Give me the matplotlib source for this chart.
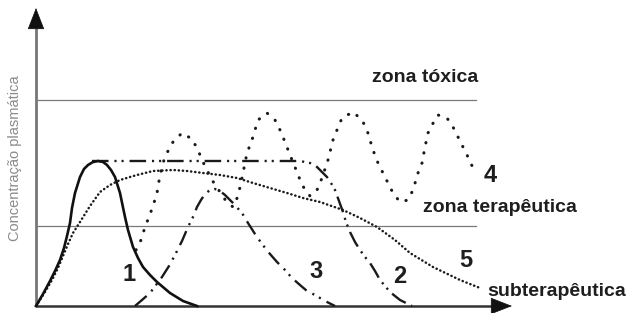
import numpy as np
import matplotlib
matplotlib.use("Agg")
import matplotlib.pyplot as plt

plt.rcParams['font.family'] = ['Liberation Sans', 'DejaVu Sans']

# Curve readings (time in arbitrary units, plasma concentration in arbitrary units)
t1 = [0, 7, 14, 19, 24, 28, 31, 34, 36, 39, 44, 48, 52, 57, 62, 67, 71, 75, 79, 84,
      89, 92, 97, 102, 107, 114, 121, 134, 147, 161]
c1 = [0, 12, 25, 35, 46, 58, 70, 83, 98, 113, 129, 137, 141, 144, 145, 144, 141, 136, 129, 113,
      89, 76, 59, 48, 39, 31, 24, 13, 5, 0]

t2 = [56, 264, 274, 280, 286, 291, 295, 299, 303, 307, 310, 314, 319, 324, 329, 334,
      339, 344, 349, 354, 359, 364, 370, 376]
c2 = [145, 145, 143, 140, 134, 129, 123, 116, 105, 94, 84, 74, 64, 56, 49, 43,
      35, 26, 20, 14, 10, 6, 3, 0]

t3 = [99, 106, 114, 120, 126, 133, 139, 146, 152, 157, 161, 165, 169, 174, 179, 184, 189,
      197, 206, 212, 219, 226, 234, 241, 249, 256, 264, 271, 279, 289, 299]
c3 = [0, 6, 13, 21, 29, 40, 51, 65, 79, 89, 99, 106, 112, 116, 117, 115, 111,
      103, 93, 83, 72, 62, 52, 44, 36, 28, 21, 15, 11, 5, 0]

t4 = [100, 105, 109, 113, 117, 121, 124, 128, 132, 137, 146, 156, 162, 166, 172, 176, 184,
      190, 197, 202, 206, 211, 216, 222, 231, 239, 244, 249, 254, 261, 266, 274, 281, 286,
      292, 297, 301, 306, 317, 326, 331, 334, 337, 342, 347, 352, 357, 364, 372, 377, 382,
      386, 389, 392, 396, 402, 411, 417, 422, 427, 432, 437]
c4 = [56, 66, 79, 89, 100, 113, 131, 146, 155, 164, 173, 167, 156, 146, 134, 126, 114,
      105, 99, 110, 128, 153, 166, 186, 193, 186, 176, 164, 151, 134, 121, 110, 116, 128,
      146, 166, 176, 188, 194, 186, 176, 166, 156, 143, 133, 123, 113, 104, 106, 116, 133,
      143, 159, 173, 181, 191, 188, 179, 169, 159, 149, 138]

t5 = [0, 9, 16, 22, 27, 32, 37, 44, 54, 64, 74, 84, 94, 101, 117, 137, 151, 167, 184, 201,
      217, 234, 251, 267, 284, 307, 324, 341, 359, 374, 397, 424, 444]
c5 = [0, 14, 26, 38, 50, 62, 73, 84, 100, 114, 121, 126, 129, 131, 135, 136, 135, 133, 131, 128,
      123, 118, 113, 108, 104, 96, 88, 79, 66, 53, 39, 26, 18]

toxic_level = 206
therapeutic_level = 80
t_end = 440

fig = plt.figure(figsize=(6.28, 3.13), dpi=100)
ax = fig.add_axes([0, 0, 1, 1])
ax.set_xlim(-36, 592)
ax.set_ylim(-7, 306)
ax.axis('off')

# zone limits
ax.plot([0, t_end], [toxic_level, toxic_level], color='#7a7a7a', lw=0.9)
ax.plot([0, t_end], [therapeutic_level, therapeutic_level], color='#7a7a7a', lw=0.9)

# axes with arrows
ax.plot([0, 0], [0, 282], color='#777777', lw=2, solid_capstyle='butt')
ax.plot([0, 460], [0, 0], color='#333333', lw=1.8, solid_capstyle='butt')
arrow = dict(arrowstyle='-|>,head_length=0.95,head_width=0.37', mutation_scale=15,
             color='#111111', lw=0.5, shrinkA=0, shrinkB=0)
ax.annotate('', xy=(0, 298), xytext=(0, 279), arrowprops=arrow)
ax.annotate('', xy=(476, 0), xytext=(457, 0), arrowprops=arrow)

# curves
ax.plot(t5, c5, color='#1a1a1a', lw=1.8, linestyle=(0, (0.1, 1.55)),
        dash_capstyle='round')
ax.plot(t4, c4, color='#1a1a1a', lw=2.2, linestyle=(0, (0.1, 3.3)),
        dash_capstyle='round')
ax.plot(t3, c3, color='#1a1a1a', lw=1.7, linestyle=(0, (6.5, 2.8, 0.9, 2.3, 0.9, 2.8)))
ax.plot(t2, c2, color='#1a1a1a', lw=1.7, linestyle=(0, (7, 2.5, 0.9, 2.1, 0.9, 2.5)))
ax.plot(t1, c1, color='#111111', lw=1.9)

# texts
dark = '#1e1e1e'
ax.text(389, 224, 'zona tóxica', fontsize=14, fontweight='bold', color=dark,
        ha='center', va='baseline')
ax.text(387, 94, 'zona terapêutica', fontsize=14, fontweight='bold', color=dark,
        ha='left', va='baseline')
ax.text(451, 10, 'subterapêutica', fontsize=14, fontweight='bold', color=dark,
        ha='left', va='baseline')
for lab, x, y in [('1', 93, 25), ('3', 280, 28), ('2', 364, 23), ('5', 430, 39), ('4', 454, 124)]:
    ax.text(x, y, lab, fontsize=17, fontweight='bold', color=dark, ha='center', va='baseline')

ax.text(-21, 148, 'Concentração plasmática', rotation=90, fontsize=10.5, color='#8a8a8a',
        ha='center', va='center')

fig.savefig('out.png', dpi=100)
